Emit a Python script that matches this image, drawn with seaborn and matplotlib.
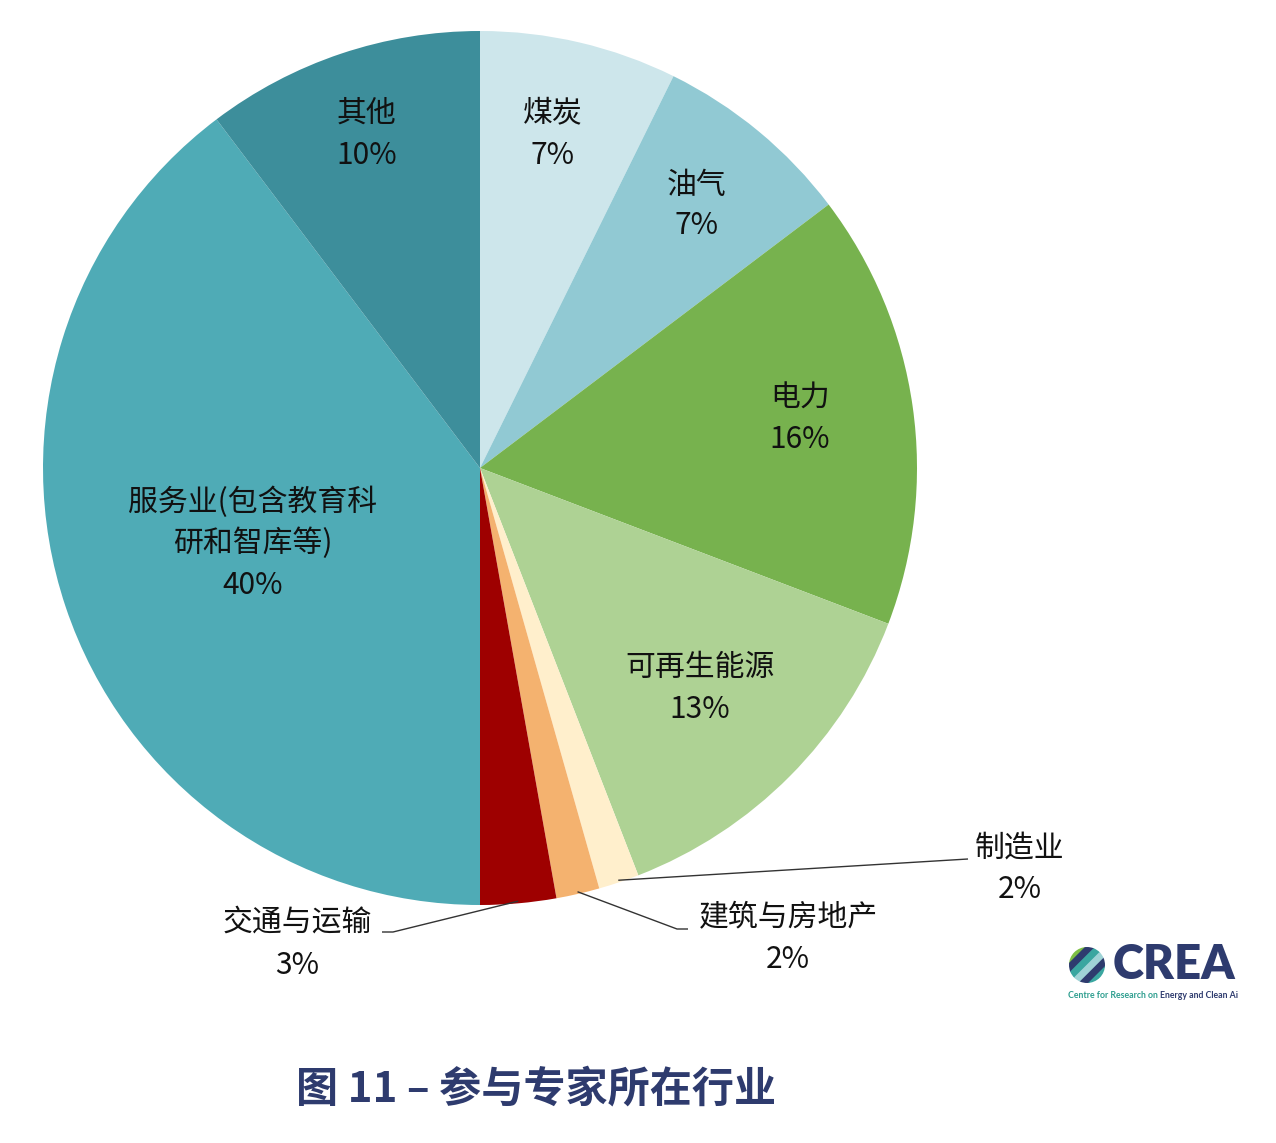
import numpy as np
import matplotlib
matplotlib.use("Agg")
import matplotlib.pyplot as plt
import seaborn as sns
from matplotlib.patches import Circle

# 数据
sectors = ["煤炭", "油气", "电力", "可再生能源", "制造业", "建筑与房地产", "交通与运输",
           "服务业(包含教育科\n研和智库等)", "其他"]
shares = [7.3, 7.4, 16.1, 13.3, 1.5, 1.6, 2.8, 39.7, 10.3]
pct_labels = ["7%", "7%", "16%", "13%", "2%", "2%", "3%", "40%", "10%"]
colors = ["#CDE6EB", "#91C9D3", "#77B24E", "#AED294", "#FFEFCC", "#F4B26F",
          "#9E0000", "#4FABB6", "#3D8E9B"]

sns.set_theme(style="white")
plt.rcParams["font.family"] = ["Noto Sans CJK SC", "DejaVu Sans"]

W, H = 1276, 1143
fig = plt.figure(figsize=(W / 100, H / 100), dpi=100)
ax = fig.add_axes([0, 0, 1, 1])

def py(y):
    # 画像座標(上から)をデータ座標に変換
    return H - y

cx, cy, rad = 480, py(468), 437
wedges, _ = ax.pie(shares, colors=colors, startangle=90, counterclock=False,
                   center=(cx, cy), radius=rad, frame=True,
                   wedgeprops=dict(linewidth=0))
ax.set_xlim(0, W)
ax.set_ylim(0, H)
ax.set_aspect("equal")
ax.axis("off")

fs = 21.5
txt = dict(ha="center", va="center", fontsize=fs, fontweight="medium", color="#111111")

# スライス内のラベル (名称, 割合)
inside = {
    0: (553, 113, 155),
    1: (697, 185, 226),
    2: (800, 398, 440),
    3: (700, 668, 710),
    8: (367, 113, 155),
}
for i, (x, y1, y2) in inside.items():
    ax.text(x, py(y1), sectors[i], **txt)
    ax.text(x, py(y2), pct_labels[i], **txt)

# 服务业
ax.text(253, py(502), "服务业(包含教育科", **txt)
ax.text(253, py(543), "研和智库等)", **txt)
ax.text(253, py(585), pct_labels[7], **txt)

# 引き出し線付きラベル
outside = {
    4: ((968, 859), (968, 859), (1020, 848, 889)),
    5: ((677, 929), (688, 929), (788, 918, 960)),
    6: ((393, 932), (382, 932), (297, 922, 965)),
}
for i, (elbow, end, (tx, ty1, ty2)) in outside.items():
    w = wedges[i]
    mid = np.deg2rad((w.theta1 + w.theta2) / 2)
    sx, sy = cx + rad * 0.995 * np.cos(mid), cy + rad * 0.995 * np.sin(mid)
    ax.plot([sx, elbow[0], end[0]], [sy, py(elbow[1]), py(end[1])],
            color="#333333", lw=1.0, solid_capstyle="butt")
    ax.text(tx, py(ty1), sectors[i], **txt)
    ax.text(tx, py(ty2), pct_labels[i], **txt)

# タイトル
ax.text(536, py(1090), "图 11 – 参与专家所在行业", ha="center", va="center",
        fontsize=30.3, fontweight="bold", color="#2E3B6E")

# CREA ロゴ
logo_c = (1087, py(965))
clip = Circle(logo_c, 18, transform=ax.transData)
stripe_cols = ["#7DBF45", "#2E3B6E", "#3AA6A0", "#9FD3D6", "#2E3B6E", "#3AA6A0"]
for k, c in enumerate(stripe_cols):
    off = (k - 2.5) * 7
    xs = np.array([-30, 30]) + logo_c[0] + off * 0.7
    ys = np.array([-30, 30]) + logo_c[1] - off * 0.7
    ln, = ax.plot(xs, ys, color=c, lw=5.5, solid_capstyle="butt")
    ln.set_clip_path(clip)
ax.text(1113, py(965), "CREA", ha="left", va="center", fontsize=34,
        fontweight="heavy", color="#2E3B6E", family="Lato")

renderer = fig.canvas.get_renderer()
t1 = ax.text(1068, py(995), "Centre for Research on ", ha="left", va="center",
             fontsize=6.3, fontweight="bold", color="#2E9E8F", family="Lato")
bb = t1.get_window_extent(renderer=renderer)
ax.text(bb.x1, py(995), "Energy and Clean Ai", ha="left", va="center",
        fontsize=6.3, fontweight="bold", color="#2E3B6E", family="Lato")

fig.savefig("out.png", dpi=100, facecolor="white")
